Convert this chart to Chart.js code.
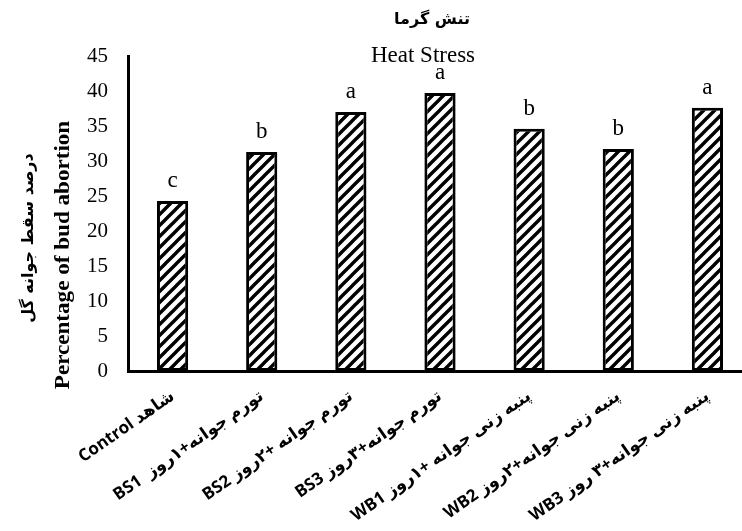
<!DOCTYPE html>
<html>
<head>
<meta charset="utf-8">
<script src="https://cdn.jsdelivr.net/npm/chart.js@4"></script>
<style>
  html, body { margin: 0; padding: 0; background: #fff; overflow: hidden; }
  #wrap { width: 770px; height: 531px; }
</style>
</head>
<body>
<div id="wrap"><canvas id="c" width="770" height="531"></canvas></div>
<script>
const categories = [
  "Control شاهد",
  "BS1  تورم جوانه+۱روز",
  "BS2 تورم جوانه +۲روز",
  "BS3 تورم جوانه+۳روز",
  "WB1 پنبه زنی جوانه +۱روز",
  "WB2 پنبه زنی جوانه+۲روز",
  "WB3 پنبه زنی جوانه+۳ روز"
];
const budAbortion = [24.3, 31.3, 37.0, 39.7, 34.6, 31.7, 37.6];
const groupLetters = ["c", "b", "a", "a", "b", "b", "a"];
const yTicks = [0, 5, 10, 15, 20, 25, 30, 35, 40, 45];
const titleFa = "تنش گرما";
const titleEn = "Heat Stress";
const yTitleFa = "درصد سقط جوانه گل";
const yTitleEn = "Percentage of bud abortion";

function hatch() {
  const s = 11;
  const c = document.createElement('canvas');
  c.width = s; c.height = s;
  const g = c.getContext('2d');
  g.fillStyle = '#fff';
  g.fillRect(0, 0, s, s);
  g.strokeStyle = '#000';
  g.lineWidth = 3.4;
  g.lineCap = 'square';
  g.beginPath();
  g.moveTo(-2, s + 2); g.lineTo(s + 2, -2);
  g.moveTo(-2 - s, s + 2); g.lineTo(2, -2);
  g.moveTo(s - 2, s + 2); g.lineTo(s + s + 2, -2);
  g.stroke();
  return g.createPattern(c, 'repeat');
}

const overlay = {
  id: 'overlay',
  afterDatasetsDraw(chart) {
    const ctx = chart.ctx;
    const meta = chart.getDatasetMeta(0);
    ctx.save();
    ctx.fillStyle = '#000';
    ctx.textAlign = 'center';
    ctx.textBaseline = 'alphabetic';
    ctx.font = '23px "Liberation Serif", "Times New Roman", serif';
    meta.data.forEach((bar, i) => {
      ctx.fillText(groupLetters[i], bar.x, bar.y - 14);
    });
    ctx.font = 'bold 16px "DejaVu Sans", sans-serif';
    ctx.textBaseline = 'middle';
    ctx.fillText(titleFa, 432, 20);
    ctx.font = '23px "Liberation Serif", "Times New Roman", serif';
    ctx.fillText(titleEn, 423, 56);
    // y titles
    ctx.save();
    ctx.translate(29, 238);
    ctx.rotate(-Math.PI / 2);
    ctx.font = 'bold 16px "DejaVu Sans", sans-serif';
    ctx.fillText(yTitleFa, 0, 0);
    ctx.restore();
    ctx.save();
    ctx.translate(64, 255);
    ctx.rotate(-Math.PI / 2);
    ctx.scale(1.1, 1);
    ctx.font = 'bold 21px "Liberation Serif", "Times New Roman", serif';
    ctx.fillText(yTitleEn, 0, 0);
    ctx.restore();
    ctx.restore();
  }
};

new Chart(document.getElementById('c'), {
  type: 'bar',
  data: {
    labels: categories,
    datasets: [{
      data: budAbortion,
      backgroundColor: hatch(),
      borderColor: '#000',
      borderWidth: 3,
      borderSkipped: false,
      barPercentage: 0.35,
      categoryPercentage: 1.0
    }]
  },
  options: {
    responsive: false,
    animation: false,
    devicePixelRatio: 1,
    layout: { padding: { top: 56, right: 18, left: 0, bottom: 0 } },
    plugins: { legend: { display: false }, title: { display: false }, tooltip: { enabled: false } },
    scales: {
      x: {
        grid: { display: false, drawTicks: false },
        border: { display: true, color: '#000', width: 3 },
        ticks: {
          color: '#000',
          minRotation: 35, maxRotation: 35,
          autoSkip: false,
          padding: 15,
          font: { family: '"Open Sans", "DejaVu Sans", sans-serif', weight: 'bold', size: 17 }
        },
        afterFit(s) { s.height = 160; }
      },
      y: {
        min: 0, max: 45,
        grid: { display: false, drawTicks: false },
        border: { display: true, color: '#000', width: 3 },
        afterBuildTicks(s) { s.ticks = yTicks.map(v => ({ value: v })); },
        ticks: {
          color: '#000',
          padding: 20,
          font: { family: '"Liberation Serif", "Times New Roman", serif', size: 21 }
        },
        afterFit(s) { s.width = 128; }
      }
    }
  },
  plugins: [overlay]
});
</script>
</body>
</html>
